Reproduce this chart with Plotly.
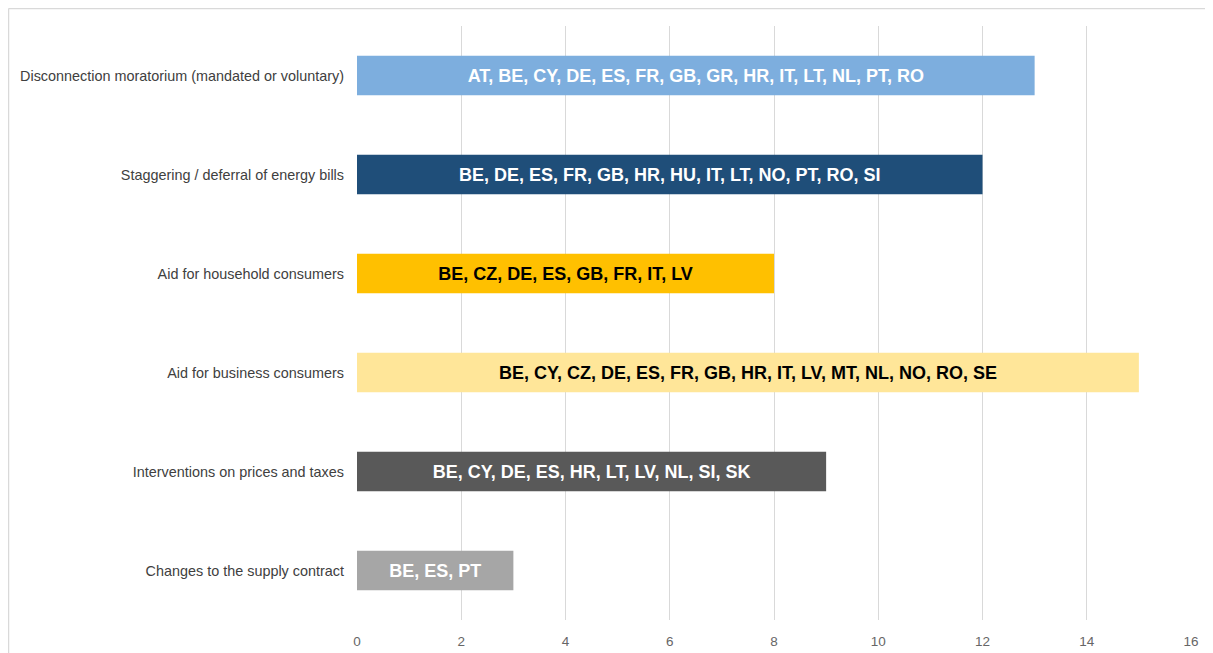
import plotly.graph_objects as go

categories = [
    "Disconnection moratorium (mandated or voluntary)",
    "Staggering / deferral of energy bills",
    "Aid for household consumers",
    "Aid for business consumers",
    "Interventions on prices and taxes",
    "Changes to the supply contract",
]
values = [13, 12, 8, 15, 9, 3]
bar_labels = [
    "AT, BE, CY, DE, ES, FR, GB, GR, HR, IT, LT, NL, PT, RO",
    "BE, DE, ES, FR, GB, HR, HU, IT, LT, NO, PT, RO, SI",
    "BE, CZ, DE, ES, GB, FR, IT, LV",
    "BE, CY, CZ, DE, ES, FR, GB, HR, IT, LV, MT, NL, NO, RO, SE",
    "BE, CY, DE, ES, HR, LT, LV, NL, SI, SK",
    "BE, ES, PT",
]
bar_colors = ["#7DAEDE", "#1F4E79", "#FFC000", "#FFE699", "#595959", "#A6A6A6"]
text_colors = ["#FFFFFF", "#FFFFFF", "#000000", "#000000", "#FFFFFF", "#FFFFFF"]
x_ticks = [0, 2, 4, 6, 8, 10, 12, 14, 16]

# page body has an 8px default margin; figure sized so it ends at window edge
W, H = 1205, 645
L, R, T, B = 349, 22, 18, 33
PW = W - L - R
PH = H - T - B

fig = go.Figure(
    go.Bar(
        y=categories,
        x=values,
        orientation="h",
        marker=dict(color=bar_colors, line=dict(width=0)),
        width=0.4,
        text=bar_labels,
        textposition="inside",
        insidetextanchor="middle",
        textangle=0,
        textfont=dict(family="Liberation Sans, Arial", size=18, color=text_colors, weight="bold"),
        constraintext="none",
        hoverinfo="skip",
    )
)

fig.update_layout(
    width=W,
    height=H,
    margin=dict(l=L, r=R, t=T, b=B),
    paper_bgcolor="white",
    plot_bgcolor="white",
    showlegend=False,
    xaxis=dict(
        range=[0, 16],
        tickvals=x_ticks,
        showgrid=True,
        gridcolor="#D9D9D9",
        gridwidth=1,
        zeroline=False,
        showline=False,
        ticks="",
        tickfont=dict(family="Liberation Sans, Arial", size=13.5, color="#666666"),
        ticklabelstandoff=11,
        automargin=False,
        fixedrange=True,
    ),
    yaxis=dict(
        categoryorder="array",
        categoryarray=categories[::-1],
        showgrid=False,
        zeroline=False,
        showline=False,
        ticks="",
        ticklabelstandoff=12,
        tickfont=dict(family="Liberation Sans, Arial", size=14.4, color="#404040"),
        automargin=False,
        fixedrange=True,
    ),
    shapes=[
        dict(
            type="line", xref="paper", yref="paper",
            x0=-(L - 0.5) / PW, x1=1.2, y0=1 + (T - 0.5) / PH, y1=1 + (T - 0.5) / PH,
            line=dict(color="#D9D9D9", width=1.5),
        ),
        dict(
            type="line", xref="paper", yref="paper",
            x0=-(L - 0.5) / PW, x1=-(L - 0.5) / PW, y0=-0.2, y1=1 + (T - 0.5) / PH,
            line=dict(color="#D9D9D9", width=1.5),
        ),
    ],
)

fig.write_html("out.html")
